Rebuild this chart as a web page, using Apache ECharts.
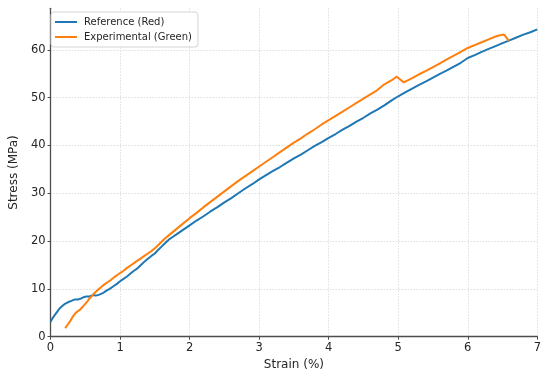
<!DOCTYPE html>
<html>
<head>
<meta charset="utf-8">
<script src="https://cdn.jsdelivr.net/npm/echarts@6/dist/echarts.min.js"></script>
<style>html,body{margin:0;padding:0;background:#fff}#chart{width:550px;height:376px}</style>
</head>
<body>
<div id="chart"></div>
<script>
const seriesNames = ["Reference (Red)", "Experimental (Green)"];
const xTicks = [0, 1, 2, 3, 4, 5, 6, 7];
const yTicks = [0, 10, 20, 30, 40, 50, 60];
const xName = "Strain (%)";
const yName = "Stress (MPa)";

// Reference (blue): [strain, stress]
const referenceStrain = [0.00,0.03,0.06,0.10,0.13,0.16,0.20,0.25,0.30,0.35,0.40,0.44,0.48,0.52,0.56,0.61,0.65,0.68,0.72,0.75,0.80,0.85,0.90,0.95,1.00,1.05,1.10,1.15,1.20,1.25,1.30,1.35,1.40,1.45,1.50,1.55,1.60,1.65,1.70,1.75,1.80,1.90,2.00,2.10,2.20,2.30,2.40,2.50,2.60,2.70,2.80,2.90,3.00,3.10,3.20,3.30,3.40,3.50,3.60,3.70,3.80,3.90,4.00,4.10,4.20,4.30,4.40,4.50,4.60,4.70,4.80,4.90,5.00,5.10,5.20,5.30,5.40,5.50,5.60,5.70,5.80,5.90,6.00,6.10,6.20,6.30,6.40,6.50,6.60,6.70,6.80,6.90,7.00];
const referenceStress = [3.1,3.9,4.5,5.3,5.9,6.3,6.8,7.2,7.5,7.8,7.8,8.0,8.3,8.4,8.4,8.7,8.6,8.7,8.9,9.1,9.6,10.0,10.5,11.0,11.6,12.1,12.6,13.2,13.8,14.3,15.0,15.7,16.3,16.9,17.4,18.2,18.9,19.6,20.3,20.8,21.3,22.3,23.3,24.3,25.2,26.2,27.1,28.1,29.0,30.0,31.0,31.9,32.9,33.8,34.7,35.5,36.4,37.3,38.1,39.0,39.9,40.7,41.6,42.4,43.3,44.1,45.0,45.8,46.7,47.5,48.4,49.4,50.3,51.1,51.9,52.7,53.4,54.2,55.0,55.7,56.5,57.3,58.3,58.9,59.6,60.2,60.8,61.4,62.0,62.6,63.2,63.7,64.3];

// Experimental (orange): [strain, stress]
const experimentalStrain = [0.21,0.25,0.28,0.32,0.35,0.39,0.42,0.46,0.49,0.53,0.56,0.60,0.63,0.68,0.73,0.78,0.83,0.87,0.92,0.96,1.01,1.05,1.10,1.15,1.20,1.25,1.30,1.35,1.40,1.45,1.50,1.55,1.60,1.65,1.70,1.80,1.90,2.00,2.10,2.20,2.30,2.40,2.50,2.60,2.70,2.80,2.90,3.00,3.10,3.20,3.30,3.40,3.50,3.60,3.70,3.80,3.90,4.00,4.10,4.20,4.30,4.40,4.50,4.60,4.70,4.80,4.90,4.98,5.02,5.08,5.20,5.30,5.40,5.50,5.60,5.70,5.80,5.90,6.00,6.10,6.20,6.30,6.40,6.45,6.50,6.53,6.59];
const experimentalStress = [1.8,2.6,3.2,4.2,4.8,5.3,5.6,6.2,6.7,7.4,8.0,8.6,9.1,9.8,10.4,11.0,11.5,11.9,12.5,12.9,13.4,13.8,14.4,14.9,15.4,15.9,16.4,16.9,17.4,17.9,18.5,19.2,19.9,20.6,21.2,22.4,23.6,24.8,25.9,27.1,28.2,29.3,30.4,31.5,32.6,33.6,34.6,35.6,36.6,37.6,38.6,39.6,40.6,41.5,42.5,43.4,44.4,45.3,46.2,47.1,48.0,48.9,49.8,50.7,51.6,52.8,53.6,54.4,53.9,53.2,54.1,54.9,55.6,56.4,57.2,58.0,58.8,59.6,60.4,61.0,61.6,62.2,62.8,63.0,63.2,63.1,61.9];

const pair = (xs, ys) => xs.map((x, i) => [x, ys[i]]);

const chart = echarts.init(document.getElementById('chart'), null, {renderer: 'canvas'});
const textColor = '#262626';
const font = 'DejaVu Sans';
chart.setOption({
  animation: false,
  backgroundColor: '#ffffff',
  textStyle: {fontFamily: font},
  grid: {left: 45.5, right: 12.7, top: 8.3, bottom: 39.3, containLabel: false},
  legend: {
    orient: 'vertical',
    left: 51, top: 12,
    data: seriesNames,
    icon: 'rect',
    itemWidth: 22, itemHeight: 2,
    itemGap: 3,
    padding: [4, 6, 4, 4],
    borderColor: '#d4d4d4', borderWidth: 1, borderRadius: 3,
    backgroundColor: 'rgba(255,255,255,0.85)',
    textStyle: {fontFamily: font, fontSize: 10, color: textColor, lineHeight: 12, padding: [0, 0, 0, 2]}
  },
  xAxis: {
    type: 'value', min: 0, max: 7, interval: 1,
    name: xName, nameLocation: 'middle', nameGap: 21,
    nameTextStyle: {fontFamily: font, fontSize: 12, color: textColor},
    axisLine: {show: true, onZero: false, lineStyle: {color: '#4d4d4d', width: 1.3}},
    axisTick: {show: true, inside: false, length: 3, lineStyle: {color: '#4d4d4d'}, customValues: xTicks},
    axisLabel: {fontFamily: font, fontSize: 11.5, color: textColor, margin: 5, customValues: xTicks},
    splitLine: {show: true, showMinLine: false, lineStyle: {color: '#d6d6d6', type: [1.5, 1.5], width: 0.8}}
  },
  yAxis: {
    type: 'value', min: 0, max: 68.7, interval: 10,
    name: yName, nameLocation: 'middle', nameGap: 25, nameRotate: 90,
    nameTextStyle: {fontFamily: font, fontSize: 12, color: textColor},
    axisLine: {show: true, onZero: false, lineStyle: {color: '#4d4d4d', width: 1.3}},
    axisTick: {show: true, inside: false, length: 3, lineStyle: {color: '#4d4d4d'}, customValues: yTicks},
    axisLabel: {fontFamily: font, fontSize: 11.5, color: textColor, margin: 5, customValues: yTicks},
    splitLine: {show: true, showMinLine: false, lineStyle: {color: '#d6d6d6', type: [1.5, 1.5], width: 0.8}}
  },
  series: [
    {
      name: seriesNames[0], type: 'line', data: pair(referenceStrain, referenceStress),
      showSymbol: false, symbol: 'none', lineStyle: {color: '#1f77b4', width: 2}, itemStyle: {color: '#1f77b4'}, z: 3
    },
    {
      name: seriesNames[1], type: 'line', data: pair(experimentalStrain, experimentalStress),
      showSymbol: false, symbol: 'none', lineStyle: {color: '#ff7f0e', width: 2}, itemStyle: {color: '#ff7f0e'}, z: 4
    }
  ]
});
</script>
</body>
</html>
